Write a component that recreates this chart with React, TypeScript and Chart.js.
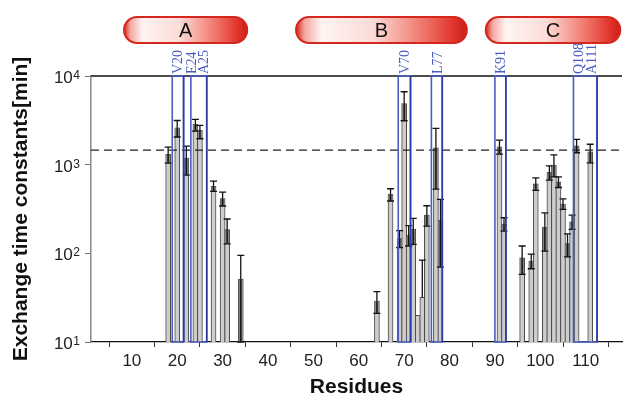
import React, { useEffect, useRef } from "react";
import { Chart, registerables } from "chart.js";

Chart.register(...registerables);

// ---- data ----
const residues = [18, 20, 22, 24, 25, 28, 30, 31, 34, 64, 67, 69, 70, 71, 72, 73, 74, 75, 77, 78, 91, 92, 96, 98, 99, 101, 102, 103, 104, 105, 106, 107, 108, 111];
const exchangeTimes = [1306, 2610, 1187, 2845, 2440, 569, 414, 185, 51, 29, 462, 147, 4900, 160, 188, 20, 32, 270, 1550, 237, 1590, 214, 89, 82, 608, 196, 817, 988, 640, 359, 129, 227, 1630, 1394];
const errorUpper = [1580, 3150, 1620, 3240, 2770, 653, 490, 244, 95, 37, 535, 180, 6640, 205, 248, 20, 84, 344, 2570, 406, 1890, 252, 121, 98, 710, 286, 970, 1290, 730, 412, 166, 270, 1925, 1700];
const errorLower = [1040, 2050, 764, 2390, 1960, 500, 342, 128, 10, 21, 389, 116, 3130, 121, 126, 20, 32, 203, 531, 70, 1312, 178, 58, 67, 514, 106, 668, 730, 553, 313, 91, 186, 1362, 1047];

const xTickValues = [10, 20, 30, 40, 50, 60, 70, 80, 90, 100, 110];
const yTickValues = [10, 100, 1000, 10000];
const yTickExponents = ["1", "2", "3", "4"];
const referenceLevel = 1456;

const boxStarts = [18.9, 23.0, 68.7, 76.0, 90.0, 107.3];
const boxEnds = [21.4, 26.5, 71.4, 78.4, 92.4, 112.5];
const residueLabels = ["V20", "E24", "A25", "V70", "L77", "K91", "Q108", "A111"];
const residueLabelAt = [20.2, 23.3, 25.9, 70.2, 77.5, 91.4, 108.6, 111.5];

const helixNames = ["A", "B", "C"];
const helixStarts = [8.3, 46.2, 88.0];
const helixEnds = [35.4, 83.8, 117.6];

const SANS = "'Liberation Sans', Arial, Helvetica, sans-serif";
const SERIF = "'Liberation Serif', 'Times New Roman', serif";

const overlayPlugin = {
  id: "overlay",
  afterDatasetsDraw(chart: any) {
    const { ctx, chartArea: ca, scales } = chart;
    const x = scales.x;
    const y = scales.y;
    ctx.save();
    // error bars
    const meta = chart.getDatasetMeta(0);
    meta.data.forEach((bar: any, i: number) => {
      const cx = bar.x;
      const v = exchangeTimes[i];
      const py = y.getPixelForValue(v);
      ctx.strokeStyle = "#111";
      ctx.lineWidth = 1.3;
      if (errorLower[i] < v) {
        const lo = y.getPixelForValue(Math.max(errorLower[i], 10));
        ctx.fillStyle = "#707070";
        ctx.fillRect(cx - 1.6, py, 3.2, lo - py);
        ctx.beginPath();
        ctx.moveTo(cx, py);
        ctx.lineTo(cx, lo);
        ctx.moveTo(cx - 3.5, lo);
        ctx.lineTo(cx + 3.5, lo);
        ctx.stroke();
      }
      if (errorUpper[i] > v) {
        const hi = y.getPixelForValue(errorUpper[i]);
        ctx.beginPath();
        ctx.moveTo(cx, py);
        ctx.lineTo(cx, hi);
        ctx.moveTo(cx - 3.5, hi);
        ctx.lineTo(cx + 3.5, hi);
        ctx.stroke();
      }
    });
    // dashed reference line
    const dy = y.getPixelForValue(referenceLevel);
    ctx.setLineDash([8, 5]);
    ctx.strokeStyle = "#222";
    ctx.lineWidth = 1.2;
    ctx.beginPath();
    ctx.moveTo(ca.left, dy);
    ctx.lineTo(ca.right, dy);
    ctx.stroke();
    ctx.setLineDash([]);
    // top line at 10^4
    const ty = y.getPixelForValue(10000);
    ctx.strokeStyle = "#111";
    ctx.lineWidth = 1.5;
    ctx.beginPath();
    ctx.moveTo(ca.left, ty);
    ctx.lineTo(ca.right, ty);
    ctx.stroke();
    // blue boxes
    const by = y.getPixelForValue(10);
    boxStarts.forEach((s, i) => {
      const x0 = x.getPixelForValue(s);
      const x1 = x.getPixelForValue(boxEnds[i]);
      ctx.strokeStyle = "#4a5ec0";
      ctx.lineWidth = 1.6;
      ctx.strokeRect(x0, ty, x1 - x0, by - ty);
      ctx.strokeStyle = "#2a3aa8";
      ctx.beginPath();
      ctx.moveTo(x1, ty);
      ctx.lineTo(x1, by);
      ctx.stroke();
    });
    ctx.restore();
  },
  afterDraw(chart: any) {
    const { ctx, scales } = chart;
    const x = scales.x;
    const y = scales.y;
    ctx.save();
    // helix pills
    const pTop = 17;
    const pH = 26;
    helixNames.forEach((name, i) => {
      const x0 = x.getPixelForValue(helixStarts[i]);
      const x1 = x.getPixelForValue(helixEnds[i]);
      const r = pH / 2;
      const g = ctx.createLinearGradient(x0, 0, x1, 0);
      g.addColorStop(0, "#d8281e");
      g.addColorStop(0.05, "#f3a79f");
      g.addColorStop(0.15, "#fff4f2");
      g.addColorStop(0.45, "#fcdcd7");
      g.addColorStop(0.75, "#f07468");
      g.addColorStop(0.93, "#e0322a");
      g.addColorStop(1, "#c8201a");
      ctx.beginPath();
      ctx.moveTo(x0 + r, pTop);
      ctx.lineTo(x1 - r, pTop);
      ctx.arc(x1 - r, pTop + r, r, -Math.PI / 2, Math.PI / 2);
      ctx.lineTo(x0 + r, pTop + pH);
      ctx.arc(x0 + r, pTop + r, r, Math.PI / 2, (3 * Math.PI) / 2);
      ctx.closePath();
      ctx.fillStyle = g;
      ctx.fill();
      ctx.strokeStyle = "#d4281e";
      ctx.lineWidth = 2.2;
      ctx.stroke();
      ctx.fillStyle = "#111";
      ctx.font = `20px ${SANS}`;
      ctx.textAlign = "center";
      ctx.textBaseline = "middle";
      ctx.fillText(name, (x0 + x1) / 2, pTop + pH / 2 + 1);
    });
    // residue labels (rotated)
    const ty = y.getPixelForValue(10000);
    ctx.fillStyle = "#4a5cc0";
    ctx.font = `14px ${SERIF}`;
    ctx.textAlign = "left";
    ctx.textBaseline = "middle";
    residueLabels.forEach((lab, i) => {
      const lx = x.getPixelForValue(residueLabelAt[i]);
      ctx.save();
      ctx.translate(lx, ty - 2);
      ctx.rotate(-Math.PI / 2);
      ctx.fillText(lab, 0, 0);
      ctx.restore();
    });
    // y tick labels 10^n
    ctx.fillStyle = "#222";
    ctx.textBaseline = "alphabetic";
    ctx.textAlign = "left";
    yTickValues.forEach((v, i) => {
      const py = y.getPixelForValue(v);
      ctx.font = `17px ${SANS}`;
      const w1 = ctx.measureText("10").width;
      ctx.font = `12px ${SANS}`;
      const w2 = ctx.measureText(yTickExponents[i]).width;
      const x0 = 80 - w1 - w2 - 0.5;
      ctx.font = `17px ${SANS}`;
      ctx.fillText("10", x0, py + 7);
      ctx.font = `12px ${SANS}`;
      ctx.fillText(yTickExponents[i], x0 + w1 + 0.5, py + 3);
    });
    ctx.restore();
  },
};

export default function App() {
  const canvasRef = useRef<HTMLCanvasElement | null>(null);
  useEffect(() => {
    document.body.style.margin = "0";
    const canvas = canvasRef.current;
    if (!canvas) return;
    const chart = new Chart(canvas, {
      type: "bar",
      data: {
        datasets: [
          {
            data: residues.map((r, i) => ({ x: r, y: exchangeTimes[i] })),
            backgroundColor: "#cdcdcd",
            borderColor: "#4a4a4a",
            borderWidth: { left: 1, right: 1, top: 1, bottom: 0 },
            borderSkipped: false,
            barThickness: 5,
          },
        ],
      },
      options: {
        animation: false,
        responsive: false,
        maintainAspectRatio: false,
        devicePixelRatio: 1,
        layout: { padding: { top: 76, right: 3, left: 0, bottom: 0 } },
        plugins: { legend: { display: false }, tooltip: { enabled: false }, title: { display: false } },
        scales: {
          x: {
            type: "linear",
            min: 1,
            max: 118,
            offset: false,
            afterBuildTicks: (scale: any) => {
              scale.ticks = xTickValues.map((v) => ({ value: v }));
            },
            afterFit: (scale: any) => {
              scale.height = 58;
            },
            grid: { drawOnChartArea: false, drawTicks: true, tickLength: 5, color: "#333", lineWidth: 1 },
            border: { display: true, color: "#111", width: 1.3 },
            ticks: {
              color: "#222",
              font: { family: SANS, size: 17 },
              padding: 4,
              maxRotation: 0,
              autoSkip: false,
              callback: (v: any) => String(v),
            },
            title: {
              display: true,
              text: "Residues",
              color: "#111",
              font: { family: SANS, size: 21, weight: "bold" },
              padding: { top: 0, bottom: 0 },
            },
          },
          y: {
            type: "logarithmic",
            min: 10,
            max: 10000,
            afterBuildTicks: (scale: any) => {
              scale.ticks = yTickValues.map((v) => ({ value: v }));
            },
            afterFit: (scale: any) => {
              scale.width = 91;
            },
            grid: { drawOnChartArea: false, drawTicks: true, tickLength: 6, color: "#777", lineWidth: 1 },
            border: { display: true, color: "#888", width: 1.5 },
            ticks: { display: true, color: "rgba(0,0,0,0)", font: { family: SANS, size: 17 }, callback: () => "" },
            title: {
              display: true,
              text: "Exchange time constants[min]",
              color: "#111",
              font: { family: SANS, size: 21, weight: "bold" },
              padding: { top: 9, bottom: 0 },
            },
          },
        },
      },
      plugins: [overlayPlugin],
    });
    return () => chart.destroy();
  }, []);
  return (
    <div style={{ width: 625, height: 400 }}>
      <canvas ref={canvasRef} width={625} height={400} style={{ width: 625, height: 400, display: "block" }} />
    </div>
  );
}
